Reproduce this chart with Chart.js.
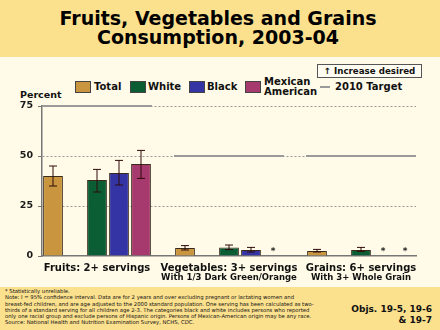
<!DOCTYPE html>
<html>
<head>
<meta charset="utf-8">
<script src="https://cdn.jsdelivr.net/npm/chart.js@4.4.1/dist/chart.umd.min.js"></script>
<style>
  body { margin: 0; width: 440px; height: 330px; overflow: hidden; background: #fffbe8; position: relative;
         font-family: "DejaVu Sans", Verdana, sans-serif; color: #111; }
  .band { position: absolute; left: 0; width: 440px; background: #fbe08e; }
  #title { position: absolute; left: 0; top: 9px; width: 436px; text-align: center; font-weight: bold;
           font-size: 19px; line-height: 19px; color: #000; }
  #increase { position: absolute; left: 317px; top: 64px; width: 103px; height: 12px; border: 1px solid #555;
              background: #fffdf2; font-weight: bold; font-size: 8.7px; line-height: 12px; text-align: center; }
  .lg { position: absolute; font-weight: bold; font-size: 10px; line-height: 10px; }
  .box { position: absolute; width: 14px; height: 10px; border: 1px solid #444; }
  #percent { position: absolute; left: 20px; top: 89px; font-weight: bold; font-size: 9.5px; }
  #notes { position: absolute; left: 5px; top: 288px; font-size: 5.3px; line-height: 6.3px; white-space: nowrap; }
  #objs { position: absolute; right: 8px; top: 304px; text-align: right; font-weight: bold; font-size: 9px; line-height: 11px; }
  canvas { position: absolute; left: 0; top: 0; }
</style>
</head>
<body>
<div class="band" style="top:0;height:57px"></div>
<div class="band" style="top:287px;height:43px"></div>
<div id="title">Fruits, Vegetables and Grains<br>Consumption, 2003-04</div>
<div id="increase">&#8593; Increase desired</div>

<div class="box" style="left:75px;top:81px;background:#c9963f"></div>
<div class="lg" style="left:94px;top:82px">Total</div>
<div class="box" style="left:130px;top:81px;background:#0b5e34"></div>
<div class="lg" style="left:148px;top:82px">White</div>
<div class="box" style="left:189px;top:81px;background:#3434a4"></div>
<div class="lg" style="left:207px;top:82px">Black</div>
<div class="box" style="left:245px;top:81px;background:#a63a6e"></div>
<div class="lg" style="left:264px;top:77px">Mexican<br>American</div>
<div style="position:absolute;left:320px;top:86px;width:10px;height:2px;background:#9a9a9a"></div>
<div class="lg" style="left:335px;top:82px">2010 Target</div>

<div id="percent">Percent</div>

<div id="notes">* Statistically unreliable.<br>
Note: I = 95% confidence interval. Data are for 2 years and over excluding pregnant or lactating women and<br>
breast-fed children, and are age adjusted to the 2000 standard population. One serving has been calculated as two-<br>
thirds of a standard serving for all children age 2-3. The categories black and white includes persons who reported<br>
only one racial group and exclude persons of Hispanic origin. Persons of Mexican-American origin may be any race.<br>
Source: National Health and Nutrition Examination Survey, NCHS, CDC.</div>
<div id="objs">Objs. 19-5, 19-6<br>&amp; 19-7</div>

<canvas id="chart" width="440" height="330"></canvas>

<script>
// groups on the x axis
var groups = ['Fruits: 2+ servings', 'Vegetables: 3+ servings', 'Grains: 6+ servings'];
var subLabels = ['', 'With 1/3 Dark Green/Orange', 'With 3+ Whole Grain'];
var series = ['Total', 'White', 'Black', 'Mexican American'];
var colors = ['#c9963f', '#0b5e34', '#3434a4', '#a63a6e'];

// percent, null = statistically unreliable
var total   = [40, 4, 2.5];
var white   = [38, 4.3, 3];
var black   = [41.5, 3, null];
var mexican = [46, null, null];

// 95% confidence intervals [low, high]
var totalCI   = [[35, 45], [3, 5.2], [2, 3.3]];
var whiteCI   = [[32, 43.3], [3.2, 5.5], [2.3, 4.3]];
var blackCI   = [[35.5, 47.8], [2, 4.3], null];
var mexicanCI = [[38.8, 52.8], null, null];

var targets = [75, 50, 50];   // 2010 target
var yTicks = [0, 25, 50, 75];

var values = [total, white, black, mexican];
var cis = [totalCI, whiteCI, blackCI, mexicanCI];
// slot in each group: Total, gap, White, Black, Mexican, gap
var slotOf = [0, 2, 3, 4];
var perGroup = 6;
var nSlots = perGroup * groups.length - 1;

var labels = [];
for (var i = 0; i < nSlots; i++) labels.push('');

var datasets = series.map(function(name, s) {
    var d = [];
    for (var i = 0; i < nSlots; i++) d.push(null);
    values[s].forEach(function(v, g) { d[g * perGroup + slotOf[s]] = v; });
    return {
        label: name,
        data: d,
        backgroundColor: colors[s],
        borderColor: '#3a2a1a',
        borderWidth: 1,
        barPercentage: 0.9,
        categoryPercentage: 1.0,
        grouped: false
    };
});

var extras = {
    id: 'extras',
    beforeDatasetsDraw: function(chart) {
        var c = chart.ctx, x = chart.scales.x, y = chart.scales.y;
        var w = x.width / nSlots;
        c.save();
        c.strokeStyle = '#9a9a9a';
        c.lineWidth = 2;
        targets.forEach(function(t, g) {
            var x0 = x.getPixelForValue(g * perGroup) - w / 2;
            var x1 = x.getPixelForValue(g * perGroup + 4) + w / 2;
            c.beginPath();
            c.moveTo(x0, y.getPixelForValue(t));
            c.lineTo(x1, y.getPixelForValue(t));
            c.stroke();
        });
        c.restore();
    },
    afterDatasetsDraw: function(chart) {
        var c = chart.ctx, x = chart.scales.x, y = chart.scales.y;
        c.save();
        c.strokeStyle = '#2e0a0a';
        c.lineWidth = 1;
        c.fillStyle = '#222';
        c.textAlign = 'center';
        c.textBaseline = 'middle';
        c.font = 'bold 9px "DejaVu Sans"';
        series.forEach(function(name, s) {
            values[s].forEach(function(v, g) {
                var px = x.getPixelForValue(g * perGroup + slotOf[s]);
                if (v === null) {
                    c.fillText('*', px, y.getPixelForValue(0) - 4);
                    return;
                }
                var ci = cis[s][g];
                if (!ci) return;
                var lo = y.getPixelForValue(ci[0]), hi = y.getPixelForValue(ci[1]);
                c.beginPath();
                c.moveTo(px, lo); c.lineTo(px, hi);
                c.moveTo(px - 4, lo); c.lineTo(px + 4, lo);
                c.moveTo(px - 4, hi); c.lineTo(px + 4, hi);
                c.stroke();
            });
        });
        // group labels under the axis
        c.fillStyle = '#111';
        groups.forEach(function(name, g) {
            var px = x.getPixelForValue(g * perGroup + 2);
            c.font = 'bold 10px "DejaVu Sans"';
            c.fillText(name, px, y.getPixelForValue(0) + 12);
            if (subLabels[g]) {
                c.font = 'bold 8.5px "DejaVu Sans"';
                c.fillText(subLabels[g], px, y.getPixelForValue(0) + 22);
            }
        });
        c.restore();
    }
};

var chartInstance = new Chart(document.getElementById('chart'), {
    type: 'bar',
    data: { labels: labels, datasets: datasets },
    options: {
        responsive: false,
        animation: false,
        layout: { padding: { top: 106, bottom: 74, left: 0, right: 24 } },
        plugins: { legend: { display: false }, tooltip: { enabled: false } },
        scales: {
            x: {
                grid: { display: false },
                border: { color: '#777', width: 1.5 },
                ticks: { display: false },
                afterFit: function(s) { s.height = 0; }
            },
            y: {
                min: yTicks[0],
                max: yTicks[yTicks.length - 1],
                afterBuildTicks: function(s) { s.ticks = yTicks.map(function(v) { return { value: v }; }); },
                ticks: { color: '#1a1a1a', padding: 5, font: { family: 'DejaVu Sans', size: 9.5, weight: 'bold' } },
                grid: {
                    color: function(ctx) { return ctx.tick && ctx.tick.value === 0 ? 'rgba(0,0,0,0)' : '#999'; },
                    tickColor: '#777',
                    tickLength: 4,
                    tickBorderDash: []
                },
                border: { color: '#777', width: 1.5, dash: [2, 2] },
                afterFit: function(s) { s.width = 42; }
            }
        }
    },
    plugins: [extras]
});
</script>
</body>
</html>
